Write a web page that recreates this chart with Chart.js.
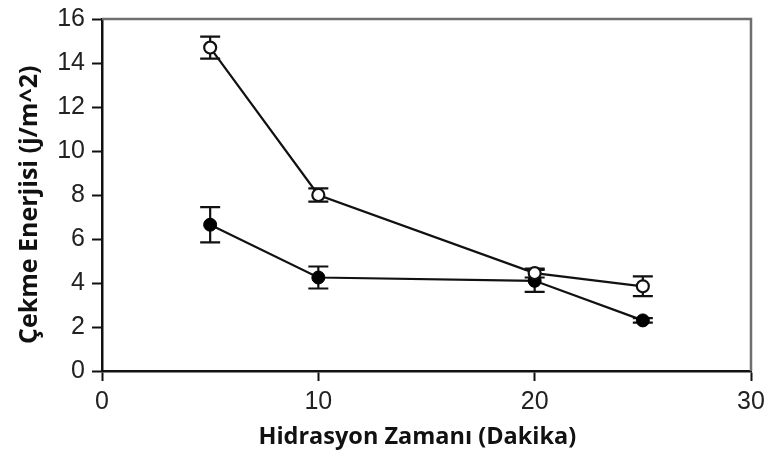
<!DOCTYPE html>
<html>
<head>
<meta charset="utf-8">
<script src="https://cdn.jsdelivr.net/npm/chart.js@4.4.1/dist/chart.umd.min.js"></script>
<style>
  html, body { margin: 0; padding: 0; background: #fff; }
  #wrap { width: 768px; height: 459px; }
</style>
</head>
<body>
<div id="wrap"><canvas id="chart" width="768" height="459"></canvas></div>
<script>
const times = [5, 10, 20, 25];
const openValues = [14.7, 8.0, 4.45, 3.85];
const openErrors = [0.5, 0.3, 0.2, 0.45];
const filledValues = [6.65, 4.25, 4.1, 2.3];
const filledErrors = [0.8, 0.5, 0.5, 0.1];
const xTicks = [0, 10, 20, 30];
const yTicks = [0, 2, 4, 6, 8, 10, 12, 14, 16];

function toPoints(vals) {
  return times.map((t, i) => ({ x: t, y: vals[i] }));
}

// whiskers drawn from the scales, behind the markers
const errorBars = {
  id: 'errorBars',
  beforeDatasetsDraw(chart) {
    const ctx = chart.ctx;
    const xs = chart.scales.x, ys = chart.scales.y;
    const sets = [[openValues, openErrors], [filledValues, filledErrors]];
    ctx.save();
    ctx.strokeStyle = '#111';
    ctx.lineWidth = 2.2;
    sets.forEach(([vals, errs]) => {
      vals.forEach((v, i) => {
        const px = xs.getPixelForValue(times[i]);
        const top = ys.getPixelForValue(v + errs[i]);
        const bot = ys.getPixelForValue(v - errs[i]);
        ctx.beginPath();
        ctx.moveTo(px, top); ctx.lineTo(px, bot);
        ctx.moveTo(px - 10, top); ctx.lineTo(px + 10, top);
        ctx.moveTo(px - 10, bot); ctx.lineTo(px + 10, bot);
        ctx.stroke();
      });
    });
    ctx.restore();
  }
};

// grey frame on top and right
const frame = {
  id: 'frame',
  beforeDatasetsDraw(chart) {
    const a = chart.chartArea, ctx = chart.ctx;
    ctx.save();
    ctx.strokeStyle = '#6e6e6e';
    ctx.lineWidth = 2.5;
    ctx.beginPath();
    ctx.moveTo(a.left, a.top);
    ctx.lineTo(a.right, a.top);
    ctx.lineTo(a.right, a.bottom);
    ctx.stroke();
    ctx.restore();
  }
};

new Chart(document.getElementById('chart'), {
  type: 'scatter',
  data: {
    datasets: [
      {
        data: toPoints(openValues),
        showLine: true,
        borderColor: '#111',
        borderWidth: 2.2,
        pointBackgroundColor: '#fff',
        pointBorderColor: '#111',
        pointBorderWidth: 2.2,
        pointRadius: 6
      },
      {
        data: toPoints(filledValues),
        showLine: true,
        borderColor: '#111',
        borderWidth: 2.2,
        pointBackgroundColor: '#000',
        pointBorderColor: '#000',
        pointBorderWidth: 1,
        pointRadius: 6.5
      }
    ]
  },
  options: {
    responsive: false,
    animation: false,
    layout: { padding: { top: 19, right: 17, left: 0, bottom: 0 } },
    plugins: { legend: { display: false }, tooltip: { enabled: false } },
    scales: {
      x: {
        type: 'linear',
        min: 0, max: 30,
        afterBuildTicks(scale) { scale.ticks = xTicks.map(v => ({ value: v })); },
        afterFit(scale) {
          scale.height = 88;
          scale.paddingLeft = 0;
          scale.paddingRight = 0;
        },
        grid: { drawOnChartArea: false, drawTicks: true, tickLength: 10, tickColor: '#111', tickWidth: 2 },
        border: { display: true, color: '#111', width: 2.5 },
        ticks: { color: '#222', font: { family: 'Liberation Sans', size: 25 }, padding: 6 },
        title: {
          display: true,
          text: 'Hidrasyon Zamanı (Dakika)   ',
          color: '#111',
          font: { family: 'Open Sans', size: 23.5, weight: 'bold' },
          padding: { top: 4, bottom: 8 }
        }
      },
      y: {
        min: 0, max: 16,
        afterBuildTicks(scale) { scale.ticks = yTicks.map(v => ({ value: v })); },
        afterFit(scale) {
          scale.width = 102;
          scale.paddingTop = 0;
          scale.paddingBottom = 0;
        },
        grid: { drawOnChartArea: false, drawTicks: true, tickLength: 10, tickColor: '#111', tickWidth: 2 },
        border: { display: true, color: '#111', width: 2.5 },
        ticks: { color: '#222', font: { family: 'Liberation Sans', size: 25 }, padding: 7 },
        title: {
          display: true,
          text: 'Çekme Enerjisi (j/m^2)   ',
          color: '#111',
          font: { family: 'Open Sans', size: 25, weight: 'bold' },
          padding: { top: 15, bottom: 0 }
        }
      }
    }
  },
  plugins: [frame, errorBars]
});
</script>
</body>
</html>
